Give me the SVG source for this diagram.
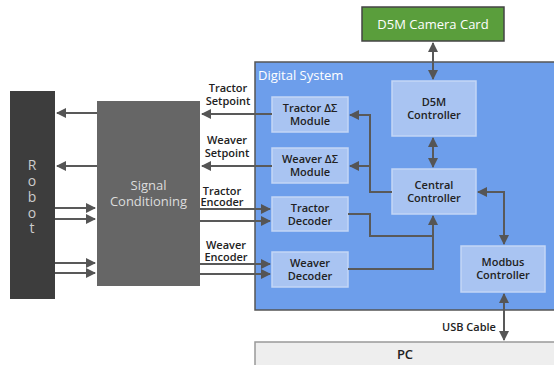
<svg xmlns="http://www.w3.org/2000/svg" width="554" height="365" viewBox="0 0 554 365">
<defs>
<marker id="ah" viewBox="0 0 10 10" refX="9" refY="5" markerWidth="5" markerHeight="5" orient="auto-start-reverse" markerUnits="strokeWidth">
<path d="M0,0 L10,5 L0,10 z" fill="#555"/>
</marker>
<style>
.c{fill:none;stroke:#595959;stroke-width:2}
.a{marker-end:url(#ah)}
.b{marker-start:url(#ah);marker-end:url(#ah)}
.m{fill:#a9c4f2;stroke:#c3d6f6;stroke-width:1.5}
.t{font-family:"Open Sans","DejaVu Sans",sans-serif;font-size:11px;font-weight:600;fill:#222;text-anchor:middle}
</style>
</defs>
<rect width="554" height="365" fill="#fff"/>
<g id="digital-system">
<rect x="255" y="62" width="305" height="248" fill="#6d9eeb" stroke="#555" stroke-width="1.5"/>
<text x="258" y="80" font-family="Open Sans,DejaVu Sans,sans-serif" font-size="13" fill="#fff">Digital System</text>
</g>
<g id="robot">
<rect x="10" y="91" width="45" height="208" fill="#3d3d3d"/>
<text font-family="Open Sans,DejaVu Sans,sans-serif" font-size="14" fill="#ccc" text-anchor="middle"><tspan x="32" y="170">R</tspan><tspan x="32" y="186">o</tspan><tspan x="32" y="202">b</tspan><tspan x="32" y="218">o</tspan><tspan x="32" y="233">t</tspan></text>
</g>
<g id="signal-conditioning">
<rect x="97" y="101" width="103" height="185" fill="#666"/>
<text font-family="Open Sans,DejaVu Sans,sans-serif" font-size="13" fill="#ddd" text-anchor="middle"><tspan x="148.5" y="190">Signal</tspan><tspan x="148.5" y="206">Conditioning</tspan></text>
</g>
<g id="camera">
<rect x="362" y="7" width="142" height="34" fill="#5a9e3c" stroke="#444" stroke-width="1.5"/>
<text x="433" y="29" font-family="Open Sans,DejaVu Sans,sans-serif" font-size="13" fill="#fff" text-anchor="middle">D5M Camera Card</text>
</g>
<g id="tractor-module">
<rect class="m" x="272" y="97" width="76" height="35"/>
<text class="t"><tspan x="310" y="112">Tractor ΔΣ</tspan><tspan x="310" y="125">Module</tspan></text>
</g>
<g id="weaver-module">
<rect class="m" x="272" y="148" width="76" height="35"/>
<text class="t"><tspan x="310" y="163">Weaver ΔΣ</tspan><tspan x="310" y="176">Module</tspan></text>
</g>
<g id="tractor-decoder">
<rect class="m" x="272" y="197" width="76" height="34"/>
<text class="t"><tspan x="310" y="212">Tractor</tspan><tspan x="310" y="225">Decoder</tspan></text>
</g>
<g id="weaver-decoder">
<rect class="m" x="272" y="252" width="76" height="35"/>
<text class="t"><tspan x="310" y="267">Weaver</tspan><tspan x="310" y="280">Decoder</tspan></text>
</g>
<g id="d5m-controller">
<rect class="m" x="392" y="81" width="84" height="55"/>
<text class="t"><tspan x="434" y="106">D5M</tspan><tspan x="434" y="119">Controller</tspan></text>
</g>
<g id="central-controller">
<rect class="m" x="392" y="169" width="84" height="45"/>
<text class="t"><tspan x="434" y="189">Central</tspan><tspan x="434" y="202">Controller</tspan></text>
</g>
<g id="modbus-controller">
<rect class="m" x="461" y="246" width="84" height="46"/>
<text class="t"><tspan x="503" y="266">Modbus</tspan><tspan x="503" y="279">Controller</tspan></text>
</g>
<g id="pc">
<rect x="255" y="342" width="305" height="30" fill="#eee" stroke="#999" stroke-width="1.5"/>
<text x="405" y="359" font-family="Open Sans,DejaVu Sans,sans-serif" font-size="13" font-weight="600" fill="#222" text-anchor="middle">PC</text>
</g>
<g id="labels" class="t">
<text><tspan x="228" y="92">Tractor</tspan><tspan x="228" y="105">Setpoint</tspan></text>
<text><tspan x="227" y="144">Weaver</tspan><tspan x="227" y="157">Setpoint</tspan></text>
<text><tspan x="222" y="195">Tractor</tspan><tspan x="222" y="206">Encoder</tspan></text>
<text><tspan x="226" y="249">Weaver</tspan><tspan x="226" y="261">Encoder</tspan></text>
<text x="469" y="331">USB Cable</text>
</g>
<g id="connectors">
<path class="c b" d="M433,43 V79"/>
<path class="c b" d="M433,138 V167"/>
<path class="c a" d="M392,192 H370 V115 H350"/>
<path class="c a" d="M370,166 H350"/>
<path class="c a" d="M348,214 H370 V236 H433 V216"/>
<path class="c" d="M348,269 H433 V236"/>
<path class="c b" d="M478,192 H504 V244"/>
<path class="c b" d="M504,294 V340"/>
<path class="c a" d="M272,114 H202"/>
<path class="c a" d="M272,166 H202"/>
<path class="c a" d="M97,113 H57"/>
<path class="c a" d="M97,166 H57"/>
<path class="c a" d="M55,208 H95"/>
<path class="c a" d="M55,219 H95"/>
<path class="c a" d="M55,263 H95"/>
<path class="c a" d="M55,273 H95"/>
<path class="c a" d="M200,209 H270"/>
<path class="c a" d="M200,221 H270"/>
<path class="c a" d="M200,264 H270"/>
<path class="c a" d="M200,274 H270"/>
</g>
</svg>
